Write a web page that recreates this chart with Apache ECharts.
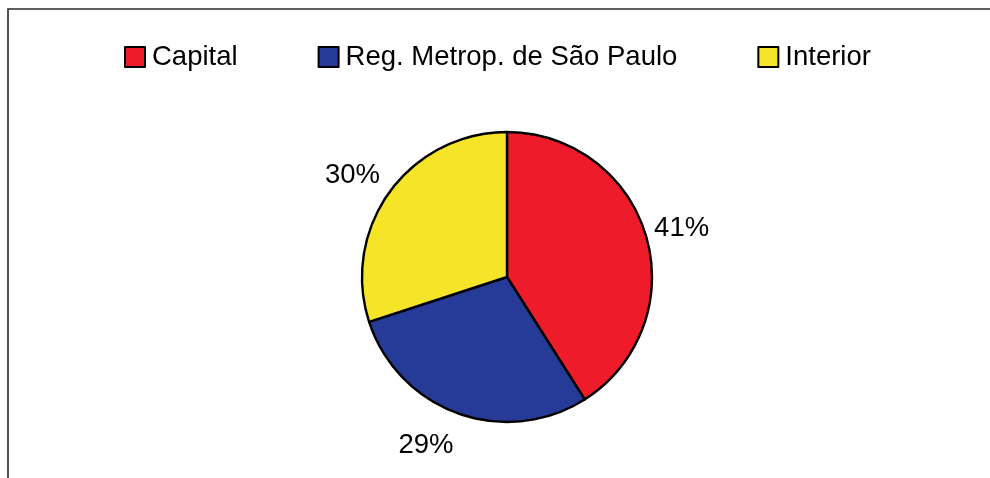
<!DOCTYPE html>
<html>
<head>
<meta charset="utf-8">
<script src="https://cdn.jsdelivr.net/npm/echarts@6/dist/echarts.min.js"></script>
<style>
html,body{margin:0;padding:0;background:#fff;}
#c{width:990px;height:478px;}
</style>
</head>
<body>
<div id="c"></div>
<script>
var categories = ['Capital', 'Reg. Metrop. de São Paulo', 'Interior'];
var values = [41, 29, 30];
var labels = ['41%', '29%', '30%'];

var colors = ['#EE1C2A', '#263B97', '#F6E428'];
var labelOffsets = [[-4, 3], [-18, -7], [-4, 8]];
var FONT = '"Liberation Sans", Arial, sans-serif';

var chart = echarts.init(document.getElementById('c'), null, {renderer: 'canvas'});

var mainData = categories.map(function (n, i) {
  return {name: n, value: values[i], itemStyle: {color: colors[i]}};
});
var ghostData = categories.map(function (n, i) {
  return {name: n, value: values[i], label: {formatter: labels[i], offset: labelOffsets[i]}};
});

chart.setOption({
  animation: false,
  backgroundColor: '#fff',
  graphic: [{
    type: 'rect',
    shape: {x: 8, y: 9, width: 1100, height: 600},
    style: {fill: 'none', stroke: '#2a2a2a', lineWidth: 1.6},
    silent: true,
    z: 0
  }],
  legend: {
    data: categories,
    left: 124,
    top: 43,
    padding: 0,
    itemWidth: 20,
    itemHeight: 20,
    itemGap: 80,
    icon: 'rect',
    selectedMode: false,
    itemStyle: {borderColor: '#000', borderWidth: 2},
    textStyle: {fontFamily: FONT, fontSize: 27.5, color: '#000', lineHeight: 28, padding: [0, 0, 0, 2]}
  },
  series: [{
    type: 'pie',
    center: [507, 277],
    radius: [0, 145],
    startAngle: 90,
    clockwise: true,
    silent: true,
    label: {show: false},
    labelLine: {show: false},
    itemStyle: {borderColor: '#000', borderWidth: 2.4},
    emphasis: {disabled: true},
    data: mainData
  }, {
    type: 'pie',
    center: [507, 277],
    radius: [170, 196],
    startAngle: 90,
    clockwise: true,
    silent: true,
    itemStyle: {color: 'rgba(0,0,0,0)', borderWidth: 0},
    label: {show: true, position: 'inside', fontFamily: FONT, fontSize: 27.5, color: '#000'},
    labelLine: {show: false},
    emphasis: {disabled: true},
    data: ghostData
  }]
});
</script>
</body>
</html>
